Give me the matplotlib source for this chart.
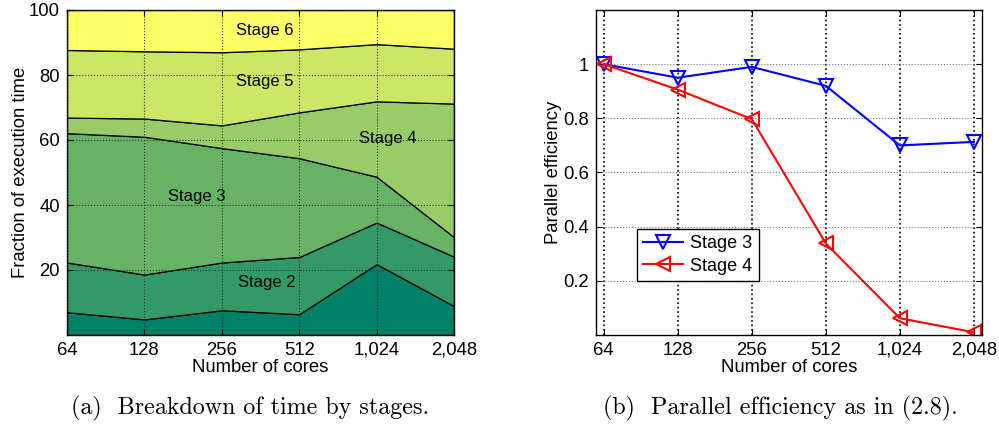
import matplotlib
matplotlib.use("Agg")
import matplotlib.pyplot as plt
import numpy as np

plt.rcParams['font.family'] = ['Liberation Sans', 'DejaVu Sans']

cores = ["64", "128", "256", "512", "1,024", "2,048"]
# Stacked fractions of execution time (percent), stages 1..6
stage1 = [7.0, 4.8, 7.6, 6.4, 21.8, 8.9]
stage2 = [15.3, 13.8, 14.7, 17.6, 12.8, 15.2]
stage3 = [39.8, 42.4, 35.2, 30.4, 14.1, 6.0]
stage4 = [4.8, 5.6, 7.0, 14.1, 23.2, 41.1]
stage5 = [20.8, 20.7, 22.5, 19.4, 17.6, 16.9]
stage6 = [12.3, 12.7, 13.0, 12.1, 10.5, 11.9]
stage_names = ["Stage 1", "Stage 2", "Stage 3", "Stage 4", "Stage 5", "Stage 6"]

# Parallel efficiency
eff_stage3 = [1.0, 0.95, 0.99, 0.92, 0.70, 0.713]
eff_stage4 = [1.0, 0.906, 0.797, 0.338, 0.062, 0.01]

colors = [plt.cm.summer(v) for v in np.linspace(0, 1, 6)]

fig = plt.figure(figsize=(9.99, 4.26), dpi=100)
ax1 = fig.add_axes([67/999, 91/426, 387/999, 325/426])
ax2 = fig.add_axes([596/999, 91/426, 386/999, 325/426])

x = np.arange(len(cores))
ax1.stackplot(x, stage1, stage2, stage3, stage4, stage5, stage6,
              colors=colors, edgecolor='black', linewidth=0.9)
ax1.set_xlim(0, 5)
ax1.set_ylim(0, 100)
ax1.set_xticks(x)
ax1.set_xticklabels(cores)
ax1.set_yticks([20, 40, 60, 80, 100])
ax1.grid(True, linestyle=':', color='#333333', linewidth=0.8)
ax1.set_axisbelow(False)
ax1.set_xlabel("Number of cores", fontsize=13.3, labelpad=0)
ax1.set_ylabel("Fraction of execution time", fontsize=13.3, labelpad=0)
lbl = dict(ha='center', va='center', fontsize=12)
ax1.text(2.56, 93.6, "Stage 6", **lbl)
ax1.text(2.56, 78.0, "Stage 5", **lbl)
ax1.text(4.15, 60.5, "Stage 4", **lbl)
ax1.text(1.68, 42.6, "Stage 3", **lbl)
ax1.text(2.58, 16.1, "Stage 2", **lbl)

ax2.plot(x, eff_stage3, color='blue', marker='v', markersize=10.5,
         markerfacecolor='none', markeredgewidth=1.5, linewidth=1.5, label="Stage 3")
ax2.plot(x, eff_stage4, color='red', marker='<', markersize=10.5,
         markerfacecolor='none', markeredgewidth=1.5, linewidth=1.5, label="Stage 4")
ax2.set_xlim(-0.105, 5.11)
ax2.set_ylim(0, 1.2)
ax2.set_xticks(x)
ax2.set_xticklabels(cores)
ax2.set_yticks([0.2, 0.4, 0.6, 0.8, 1.0])
ax2.set_yticklabels(["0.2", "0.4", "0.6", "0.8", "1"])
ax2.grid(True, axis='y', linestyle=':', color='#777777', linewidth=0.8)
ax2.grid(True, axis='x', linestyle=':', color='black', linewidth=1.2)
ax2.set_xlabel("Number of cores", fontsize=13.3, labelpad=0)
ax2.set_ylabel("Parallel efficiency", fontsize=13.3, labelpad=1)
leg = ax2.legend(loc='lower left', bbox_to_anchor=(0.106, 0.166), fontsize=13,
                 fancybox=False, edgecolor='black', framealpha=1,
                 handlelength=2.2, borderpad=0.35, labelspacing=0.3,
                 handletextpad=0.4, borderaxespad=0)
leg.get_frame().set_linewidth(1.0)

for ax in (ax1, ax2):
    ax.tick_params(direction='in', top=True, right=True, labelsize=13.3,
                   length=4, width=0.8, pad=5)
    for s in ax.spines.values():
        s.set_linewidth(1.0)

fig.text(250/999, 1 - 408/426, "(a)  Breakdown of time by stages.",
         ha='center', va='center', fontsize=17.3, family=['cmr10', 'DejaVu Serif'])
fig.text(780/999, 1 - 408/426, "(b)  Parallel efficiency as in (2.8).",
         ha='center', va='center', fontsize=17.3, family=['cmr10', 'DejaVu Serif'])

fig.savefig("out.png", dpi=100)
